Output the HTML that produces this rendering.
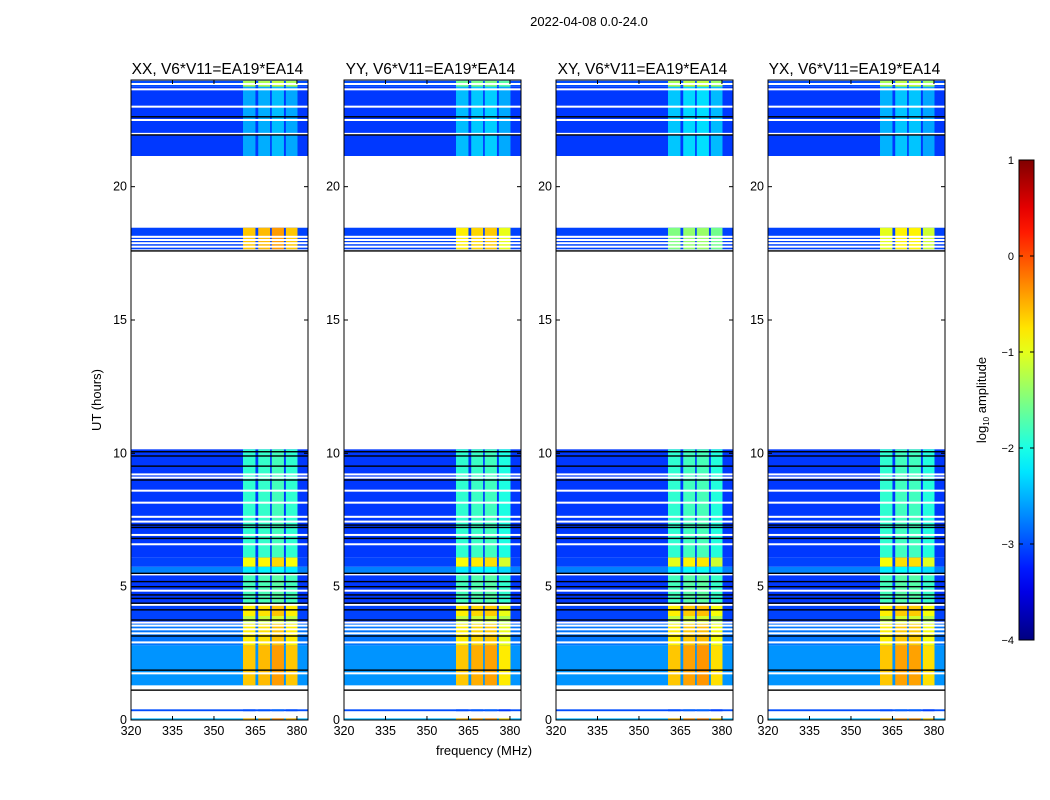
<!DOCTYPE html>
<html><head><meta charset="utf-8"><style>
html,body{margin:0;padding:0;background:#fff;}
svg{display:block;font-family:"Liberation Sans",sans-serif;}
</style></head><body>
<svg id="fig" width="1050" height="800" viewBox="0 0 1050 800">
<text x="589" y="26" font-size="13" text-anchor="middle">2022-04-08 0.0-24.0</text>
<text x="484" y="755" font-size="13" text-anchor="middle">frequency (MHz)</text>
<text x="0" y="0" font-size="13" text-anchor="middle" transform="translate(101,400) rotate(-90)">UT (hours)</text>
</svg>
<script>
// ---- data ----
const panelTitles = ["XX, V6*V11=EA19*EA14","YY, V6*V11=EA19*EA14","XY, V6*V11=EA19*EA14","YX, V6*V11=EA19*EA14"];
const segStart = [0.0, 0.33, 1.3, 2.8, 3.6, 3.9, 4.3, 5.5, 5.75, 6.1, 17.65, 21.15, 23.75];
const segEnd   = [0.06,0.40, 2.8, 3.6, 3.9, 4.3, 5.5, 5.75,6.1, 10.15,18.46, 23.75, 23.97];
const segBase  = [-2.5,-3.0,-2.65,-2.8,-3.05,-3.05,-3.1,-2.75,-3.05,-3.1,-3.05,-3.1,-3.0];
const rfiXX = [-0.5,-3.0,-0.6,-0.8,-1.2,-0.8,-1.8,-2.2,-0.9,-1.9,-0.6,-2.55,-1.3];
const rfiYY = [-0.5,-3.0,-0.6,-0.8,-1.2,-0.8,-1.8,-2.2,-0.9,-1.9,-0.8,-2.45,-1.6];
const rfiXY = [-0.5,-3.0,-0.6,-0.8,-1.2,-0.8,-1.8,-2.2,-1.0,-1.9,-1.5,-2.4,-1.3];
const rfiYX = [-0.5,-3.0,-0.6,-0.8,-1.2,-0.8,-1.8,-2.2,-0.9,-1.9,-1.0,-2.5,-1.3];
const bandLo = [360.5, 366.0, 370.9, 376.0];
const bandHi = [365.0, 370.3, 375.3, 380.2];
const bandOffXX = [0.0, 0.1, 0.35, 0.0];
const bandOffYY = [0.0, 0.2, 0.3, -0.3];
const bandOffXY = [0.0, 0.3, 0.4, -0.2];
const bandOffYX = [0.0, 0.3, 0.3, -0.2];
const whiteLines = [9.21,9.09,8.6,8.15,7.62,7.44,6.94,6.59,5.46,4.85,4.32,3.65,3.54,3.40,3.25,2.91,23.65,23.0,22.5,21.98,18.12,18.0,17.88,17.75,23.85,1.75];
const blackLines = [10.06,9.9,9.52,9.0,7.31,7.22,6.81,5.5,5.19,5.0,4.69,4.56,4.38,4.13,3.75,3.15,1.87,1.12,22.62,21.94,17.59];
const xTicks = [320,335,350,365,380];
const yTicks = [0,5,10,15,20];
const cbTicks = [1,0,-1,-2,-3,-4];
const cbTickLabels = ["1","0","\u22121","\u22122","\u22123","\u22124"];
const rfiAll = [rfiXX, rfiYY, rfiXY, rfiYX];
const bandOffAll = [bandOffXX, bandOffYY, bandOffXY, bandOffYX];

// ---- layout ----
const panelX = [131, 344, 556, 768];
const PW = 177, PT = 80, PB = 720;
const fMin = 320, fMax = 384;
const NS = "http://www.w3.org/2000/svg";
const svg = document.getElementById('fig');
function mk(tag, attrs, parent){const e=document.createElementNS(NS,tag);for(const k in attrs)e.setAttribute(k,attrs[k]);(parent||svg).appendChild(e);return e;}
function yScale(h){return PB-(h/24)*(PB-PT);}
function jet(v){
  let t=(v+4)/5; t=Math.max(0,Math.min(1,t));
  const r=Math.max(0,Math.min(1,1.5-Math.abs(4*t-3)));
  const g=Math.max(0,Math.min(1,1.5-Math.abs(4*t-2)));
  const b=Math.max(0,Math.min(1,1.5-Math.abs(4*t-1)));
  return `rgb(${Math.round(r*255)},${Math.round(g*255)},${Math.round(b*255)})`;
}

panelX.forEach((px,pi)=>{
  const xS=f=>px+(f-fMin)/(fMax-fMin)*PW;
  const g=mk('g',{});
  
  
  const t=mk('text',{x:px+PW/2-2,y:74,'font-size':15.5,'text-anchor':'middle'},g);
  t.textContent=panelTitles[pi];
  
  
  segStart.forEach((s,i)=>{
    const y0=yScale(segEnd[i]), y1=yScale(s);
    const r=mk('rect',{x:px,y:y0,width:PW,height:y1-y0,fill:jet(segBase[i])},g);
    
    
    bandLo.forEach((bl,j)=>{
      const br=mk('rect',{x:xS(bl),y:y0,width:xS(bandHi[j])-xS(bl),height:y1-y0,fill:jet(Math.min(0.9,rfiAll[pi][i]+(rfiAll[pi][i]>-1.2?bandOffAll[pi][j]*0.6:bandOffAll[pi][j]*0.3)))},g);
      
      
    });
  });
  whiteLines.forEach(h=>{
    const l=mk('rect',{x:px,y:yScale(h)-1,width:PW,height:2,fill:'#fff'},g);
    
    
  });
  blackLines.forEach(h=>{
    const l=mk('rect',{x:px,y:yScale(h)-0.7,width:PW,height:1.4,fill:'#000'},g);
    
    
  });
  const fr=mk('rect',{x:px,y:PT,width:PW,height:PB-PT,fill:'none',stroke:'#000','stroke-width':1},g);
  
  
  xTicks.forEach(v=>{
    const x=xS(v);
    mk('line',{x1:x,y1:PB,x2:x,y2:PB-4,stroke:'#000'},g);
    mk('line',{x1:x,y1:PT,x2:x,y2:PT+4,stroke:'#000'},g);
    const tl=mk('text',{x:x,y:PB+15,'font-size':12.5,'text-anchor':'middle'},g);
    tl.textContent=v;
    
    
  });
  yTicks.forEach(v=>{
    const y=yScale(v);
    mk('line',{x1:px,y1:y,x2:px+4,y2:y,stroke:'#000'},g);
    mk('line',{x1:px+PW,y1:y,x2:px+PW-4,y2:y,stroke:'#000'},g);
    const tl=mk('text',{x:px-4,y:y+4,'font-size':12.5,'text-anchor':'end'},g);
    tl.textContent=v;
    
    
  });
});

// colorbar
const cbX=1019, cbW=15, cbT=160, cbB=640;
const defs=mk('defs',{});
const lg=mk('linearGradient',{id:'jetg',x1:0,y1:1,x2:0,y2:0},defs);
for(let k=0;k<=20;k++){mk('stop',{offset:(k/20),'stop-color':jet(-4+5*k/20)},lg);}
const cb=mk('rect',{x:cbX,y:cbT,width:cbW,height:cbB-cbT,fill:'url(#jetg)',stroke:'#000'});


const cbS=v=>cbB-(v+4)/5*(cbB-cbT);
cbTicks.forEach((v,i)=>{
  const y=cbS(v);
  mk('line',{x1:cbX,y1:y,x2:cbX+4,y2:y,stroke:'#000'});
  mk('line',{x1:cbX+cbW,y1:y,x2:cbX+cbW-4,y2:y,stroke:'#000'});
  const tl=mk('text',{x:cbX-5,y:y+4,'font-size':11,'text-anchor':'end'});
  tl.textContent=cbTickLabels[i];
  
  
});
const cl=mk('text',{x:0,y:0,'font-size':13,'text-anchor':'middle',transform:'translate(986,400) rotate(-90)'});
cl.innerHTML='log<tspan font-size="8" dy="3">10</tspan><tspan dy="-3"> amplitude</tspan>';


</script>
</body></html>
